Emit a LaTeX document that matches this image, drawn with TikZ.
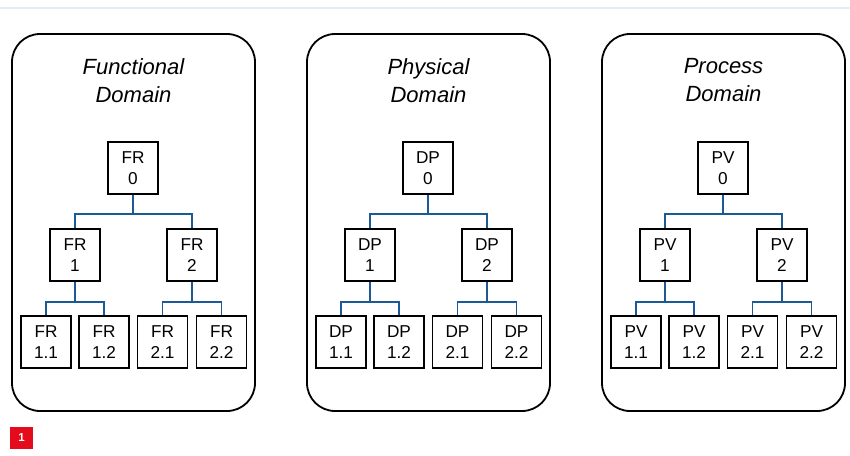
\documentclass[tikz,border=0pt]{standalone}
\usepackage{fontspec}
\setmainfont{Liberation Sans}
\begin{document}
\begin{tikzpicture}[x=1pt,y=-1pt,
  panel/.style={draw=black,line width=1.8pt,rounded corners=28pt,
    minimum width=243pt,minimum height=377pt,inner sep=0pt},
  domtitle/.style={align=center,inner sep=0pt,
    font=\fontsize{22}{28}\selectfont\itshape},
  item/.style={draw=black,line width=1.7pt,fill=white,align=center,
    minimum width=50pt,minimum height=52pt,inner sep=0pt,
    font=\fontsize{17.2}{20.8}\selectfont},
  conn/.style={draw=linkblue,line width=1.8pt},
  badge/.style={fill=badgered,text=white,minimum size=22.5pt,inner sep=0pt,
    font=\fontsize{11.5}{13}\selectfont\bfseries}]
\definecolor{linkblue}{HTML}{1B5A97}
\definecolor{badgered}{HTML}{E30B1C}
\definecolor{rulecol}{HTML}{E2EDF6}
\useasboundingbox (0,0) rectangle (850,455);

% thin rule along the top edge
\coordinate (ruleL) at (0,8);
\coordinate (ruleR) at (850,8);
\draw[rulecol,line width=2pt] (ruleL) -- (ruleR);

% one panel per domain, each holding a two-level decomposition tree
\foreach \dx/\ab/\ti/\id in {0/FR/Functional/f,295/DP/Physical/p,590/PV/Process/v}{
  \begin{scope}[xshift=\dx pt]
    \node[panel] (\id-panel) at (133.5,222.5) {};
    \node[domtitle] (\id-title) at (133.5,80.5) {\ti\\Domain};
    \node[item] (\id-0) at (133,168) {\ab\\0};
    \node[item] (\id-1) at (75,255) {\ab\\1};
    \node[item] (\id-2) at (192,255) {\ab\\2};
    \node[item] (\id-11) at (46,342) {\ab\\1.1};
    \node[item] (\id-12) at (104,342) {\ab\\1.2};
    \node[item] (\id-21) at (162.5,342) {\ab\\2.1};
    \node[item] (\id-22) at (221.5,342) {\ab\\2.2};
    \coordinate (\id-b0) at (133,214);
    \coordinate (\id-b1) at (75,302);
    \coordinate (\id-b2) at (192,302);
    \draw[conn] (\id-0.south) -- (\id-b0) -| (\id-1.north);
    \draw[conn] (\id-b0) -| (\id-2.north);
    \draw[conn] (\id-1.south) -- (\id-b1) -| (\id-11.north);
    \draw[conn] (\id-b1) -| (\id-12.north);
    \draw[conn] (\id-2.south) -- (\id-b2) -| (\id-21.north);
    \draw[conn] (\id-b2) -| (\id-22.north);
  \end{scope}
}

\node[badge] (badge) at (21.5,438) {1};
\end{tikzpicture}
\end{document}
